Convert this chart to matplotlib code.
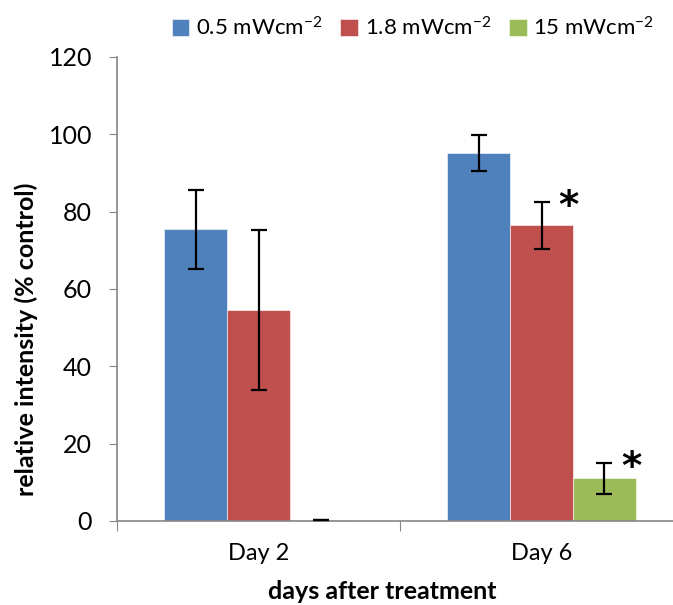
import matplotlib
matplotlib.use("Agg")
import matplotlib.pyplot as plt
import numpy as np

plt.rcParams['font.family'] = ['Lato', 'DejaVu Sans']
plt.rcParams['mathtext.fontset'] = 'custom'
plt.rcParams['mathtext.rm'] = 'Lato'
plt.rcParams['mathtext.it'] = 'Lato:italic'
plt.rcParams['mathtext.bf'] = 'Lato:bold'

categories = ["Day 2", "Day 6"]
series_names = ["0.5 mWcm$^{-2}$", "1.8 mWcm$^{-2}$", "15 mWcm$^{-2}$"]
values_05 = [75.4, 95.1]
values_18 = [54.6, 76.5]
values_15 = [0.3, 11.1]
err_05 = [10.1, 4.6]
err_18 = [20.6, 6.1]
err_15 = [0.0, 4.0]
colors = ["#4F81BD", "#C0504D", "#9BBB59"]
yticks = [0, 20, 40, 60, 80, 100, 120]
sig_marks = [(1, 1), (1, 2)]  # (category index, series index)

values = [values_05, values_18, values_15]
errors = [err_05, err_18, err_15]

fig = plt.figure(figsize=(6.73, 6.05), dpi=100)
ax = fig.add_axes([117/673, 1-521/605, (683-117)/673, (521-57)/605])

x = np.arange(len(categories))
w = 0.2226
offsets = [-w, 0, w]
for i in range(3):
    ax.bar(x + offsets[i], values[i], width=w, color=colors[i], label=series_names[i],
           edgecolor='white', linewidth=0.4, zorder=2)
    ax.errorbar(x + offsets[i], values[i], yerr=errors[i], fmt='none', ecolor='black',
                elinewidth=1.6, capsize=6, capthick=1.6, zorder=3)

for ci, si in sig_marks:
    top = values[si][ci] + errors[si][ci]
    ax.text(ci + offsets[si] + w*0.42, top - 1.5, "*", fontsize=28, fontweight='bold',
            ha='center', va='center', family='DejaVu Sans')

ax.set_xlim(-0.5, 1.5)
ax.set_ylim(0, 120)
ax.set_yticks(yticks)
ax.set_yticklabels([str(t) for t in yticks], fontsize=18)
ax.set_xticks([-0.5, 0.5, 1.5])
ax.set_xticklabels([])
ax.set_xticks(x, minor=True)
ax.set_xticklabels(categories, minor=True, fontsize=17)
ax.tick_params(axis='x', which='minor', length=0, pad=16)
ax.tick_params(axis='x', which='major', length=7, direction='out', color='#868686')
ax.tick_params(axis='y', length=6, direction='out', color='#868686', pad=12)

for s in ['top', 'right']:
    ax.spines[s].set_visible(False)
for s in ['left', 'bottom']:
    ax.spines[s].set_color('#868686')
    ax.spines[s].set_linewidth(1.2)

ax.set_ylabel("relative intensity (% control)", fontsize=18, fontweight='bold',
              va='center', ha='center')
ax.yaxis.set_label_coords(-0.161, 0.392)
ax.set_xlabel("days after treatment", fontsize=18, fontweight='bold',
              va='center', ha='center')
ax.xaxis.set_label_coords(0.469, -0.153)

fig.legend(loc='center', bbox_to_anchor=(413/673, 1-28/605), ncol=3, frameon=False,
           fontsize=16, handlelength=0.8, handleheight=0.8, handletextpad=0.3,
           columnspacing=0.8)

fig.savefig("out.png", dpi=100)
